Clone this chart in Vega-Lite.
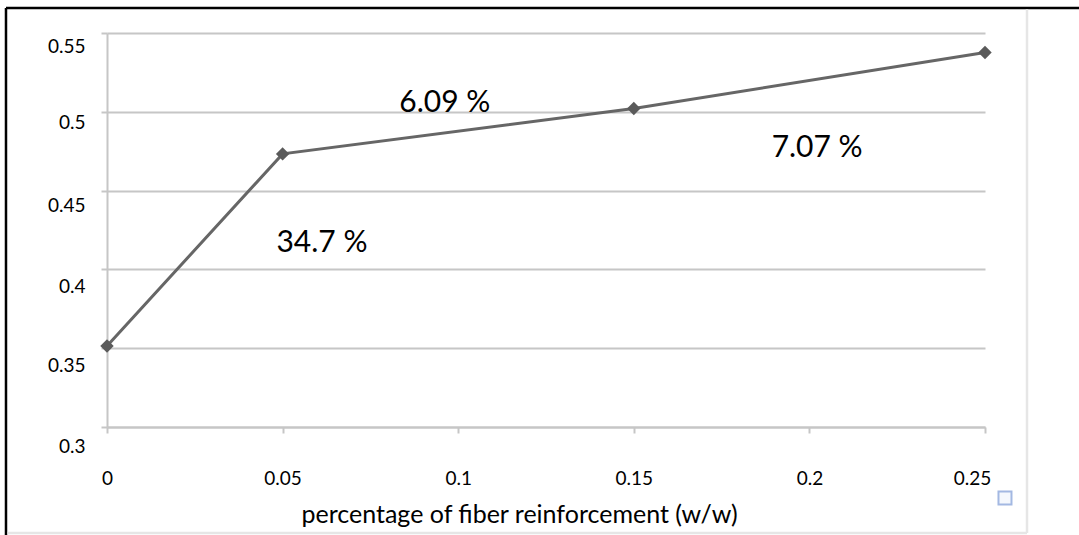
{
  "$schema": "https://vega.github.io/schema/vega-lite/v6.json",
  "width": 878,
  "height": 394,
  "autosize": {"type": "none"},
  "padding": {"left": 107, "top": 33, "right": 94, "bottom": 108},
  "background": "white",
  "config": {"view": {"stroke": null}, "font": "Lato"},
  "datasets": {
    "series": [
      {"fiber": 0, "value": 0.3514},
      {"fiber": 0.05, "value": 0.4733},
      {"fiber": 0.15, "value": 0.5021},
      {"fiber": 0.25, "value": 0.5376}
    ],
    "notes": [
      {"fiber": 0.0612, "value": 0.4168, "label": "34.7 %"},
      {"fiber": 0.0962, "value": 0.5056, "label": "6.09 %"},
      {"fiber": 0.2022, "value": 0.477, "label": "7.07 %"}
    ]
  },
  "layer": [
    {
      "data": {"name": "series"},
      "mark": {"type": "line", "color": "#666666", "strokeWidth": 3},
      "encoding": {
        "x": {
          "field": "fiber",
          "type": "quantitative",
          "scale": {"domain": [0, 0.25], "nice": false, "zero": false},
          "axis": {
            "values": [0, 0.05, 0.1, 0.15, 0.2, 0.25],
            "format": "~g",
            "grid": false,
            "labelFlush": false,
            "domainColor": "#c6c6c6",
            "domainWidth": 2,
            "tickColor": "#c6c6c6",
            "tickWidth": 2,
            "tickSize": 6,
            "labelPadding": 36,
            "labelFont": "Lato",
            "labelFontSize": 19,
            "labelColor": "#000000",
            "labelOffset": {
              "condition": {"test": "datum.value > 0.24", "value": -13},
              "value": 0
            },
            "title": "percentage of fiber reinforcement (w/w)",
            "titleFont": "Lato",
            "titleFontSize": 25,
            "titleFontWeight": "normal",
            "titleColor": "#000000",
            "titleX": 412,
            "titleY": 95,
            "titleBaseline": "alphabetic"
          }
        },
        "y": {
          "field": "value",
          "type": "quantitative",
          "scale": {"domain": [0.3, 0.55], "nice": false, "zero": false},
          "axis": {
            "values": [0.3, 0.35, 0.4, 0.45, 0.5, 0.55],
            "format": "~g",
            "grid": true,
            "gridColor": "#c6c6c6",
            "gridWidth": 2,
            "domainColor": "#c6c6c6",
            "domainWidth": 2,
            "tickColor": "#c6c6c6",
            "tickWidth": 2,
            "tickSize": 6,
            "labelPadding": 16,
            "labelFont": "Lato",
            "labelFontSize": 19,
            "labelColor": "#000000",
            "labelOffset": {
              "condition": [
                {"test": "datum.value > 0.52", "value": 13},
                {"test": "datum.value > 0.47", "value": 11},
                {"test": "datum.value > 0.42", "value": 15},
                {"test": "datum.value > 0.32", "value": 17}
              ],
              "value": 19
            },
            "title": null
          }
        }
      }
    },
    {
      "data": {"name": "series"},
      "mark": {"type": "point", "shape": "diamond", "filled": true, "color": "#5a5a5a", "size": 180, "opacity": 1},
      "encoding": {
        "x": {"field": "fiber", "type": "quantitative"},
        "y": {"field": "value", "type": "quantitative"}
      }
    },
    {
      "data": {"name": "notes"},
      "mark": {"type": "text", "font": "Lato", "fontSize": 30, "color": "#000000", "align": "center", "baseline": "middle"},
      "encoding": {
        "x": {"field": "fiber", "type": "quantitative"},
        "y": {"field": "value", "type": "quantitative"},
        "text": {"field": "label"}
      }
    },
    {
      "data": {"values": [{}]},
      "mark": {"type": "rule", "color": "#000000", "strokeWidth": 2.5},
      "encoding": {
        "x": {"datum": -0.02876},
        "x2": {"datum": 0.32},
        "y": {"datum": 0.56586}
      }
    },
    {
      "data": {"values": [{}]},
      "mark": {"type": "rule", "color": "#000000", "strokeWidth": 2.5},
      "encoding": {
        "x": {"datum": -0.02876},
        "y": {"datum": 0.56586},
        "y2": {"datum": 0.2}
      }
    },
    {
      "data": {"values": [{}]},
      "mark": {"type": "rule", "color": "#e6e6e6", "strokeWidth": 2.5},
      "encoding": {
        "x": {"datum": 0.26196},
        "y": {"datum": 0.565},
        "y2": {"datum": 0.2327}
      }
    },
    {
      "data": {"values": [{}]},
      "mark": {"type": "rule", "color": "#e6e6e6", "strokeWidth": 2.5},
      "encoding": {
        "x": {"datum": -0.0283},
        "x2": {"datum": 0.26196},
        "y": {"datum": 0.2327}
      }
    },
    {
      "data": {"values": [{}]},
      "mark": {"type": "point", "shape": "square", "size": 169, "filled": true, "fill": "#f5f8fd", "stroke": "#a3b8e2", "strokeWidth": 2, "opacity": 1},
      "encoding": {
        "x": {"datum": 0.25569},
        "y": {"datum": 0.25495}
      }
    }
  ]
}
